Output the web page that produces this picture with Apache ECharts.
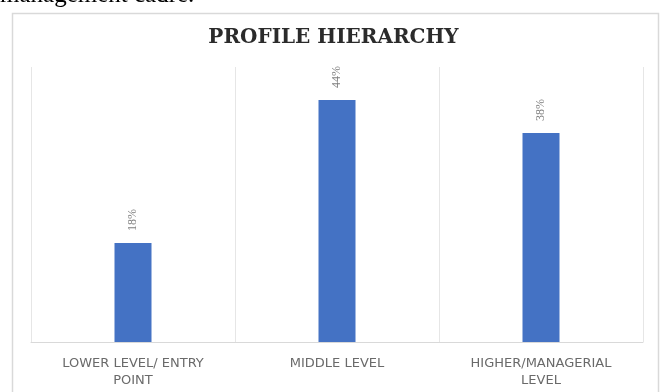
<!DOCTYPE html>
<html>
<head>
<meta charset="utf-8">
<script src="https://cdn.jsdelivr.net/npm/echarts@6/dist/echarts.min.js"></script>
<style>
  html, body { margin: 0; padding: 0; background: #ffffff; }
  #chart { width: 667px; height: 392px; }
</style>
</head>
<body>
<div id="chart"></div>
<script>
// Profile levels and their share of respondents (%)
const categories = ['LOWER LEVEL/ ENTRY\nPOINT', 'MIDDLE LEVEL', 'HIGHER/MANAGERIAL\nLEVEL'];
const shares = [18, 44, 38];
const valueMax = 50;

const chart = echarts.init(document.getElementById('chart'));

chart.setOption({
  animation: false,
  backgroundColor: '#ffffff',
  title: {
    text: 'PROFILE HIERARCHY',
    left: 'center',
    top: 23,
    textStyle: {
      fontFamily: 'DejaVu Serif',
      fontWeight: 'bold',
      fontSize: 20,
      color: '#2b2b2b'
    }
  },
  graphic: [
    {
      type: 'text',
      left: 0,
      top: -17,
      style: {
        text: 'management cadre.',
        font: '25px "Liberation Serif"',
        fill: '#000000'
      }
    },
    {
      type: 'rect',
      shape: { x: 12.5, y: 13.5, width: 646, height: 390 },
      style: { fill: 'none', stroke: '#d9d9d9', lineWidth: 1.5 },
      z: -1
    }
  ],
  grid: { left: 31, right: 24, top: 67, bottom: 50 },
  xAxis: {
    type: 'category',
    data: categories,
    axisLine: { lineStyle: { color: '#d9d9d9', width: 1 } },
    axisTick: { show: false },
    splitLine: { show: true, lineStyle: { color: '#e6e6e6', width: 1 } },
    axisLabel: {
      color: '#6a6a6a',
      fontFamily: 'DejaVu Sans',
      fontSize: 13,
      lineHeight: 17,
      margin: 13
    }
  },
  yAxis: {
    type: 'value',
    min: 0,
    max: valueMax,
    show: false,
    splitLine: { show: false }
  },
  series: [{
    type: 'bar',
    data: shares,
    barWidth: 37,
    itemStyle: { color: '#4472C4' },
    label: {
      show: true,
      position: 'top',
      rotate: 90,
      align: 'left',
      verticalAlign: 'middle',
      distance: 12,
      formatter: p => p.value + '%',
      color: '#7f7f7f',
      fontFamily: 'Liberation Serif',
      fontSize: 12
    }
  }]
});
</script>
</body>
</html>
